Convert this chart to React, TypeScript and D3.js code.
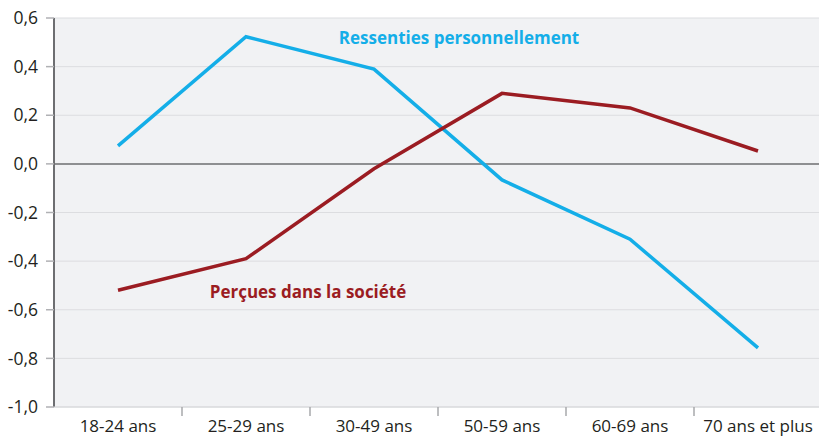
import React, { useRef, useEffect } from 'react';
import * as d3 from 'd3';

const categories = ['18-24 ans', '25-29 ans', '30-49 ans', '50-59 ans', '60-69 ans', '70 ans et plus'];
const ressenties = [0.074, 0.523, 0.39, -0.066, -0.31, -0.757];
const percues = [-0.52, -0.39, -0.02, 0.29, 0.23, 0.053];
const yTicks = [0.6, 0.4, 0.2, 0, -0.2, -0.4, -0.6, -0.8, -1.0];

const App = () => {
  const svgRef = useRef<SVGSVGElement | null>(null);

  useEffect(() => {
    const svg = d3.select(svgRef.current);
    svg.selectAll('*').remove();

    const width = 819;
    const height = 438;
    const margin = { top: 18, right: -3, bottom: 31, left: 54 };
    const innerW = width - margin.left - margin.right;
    const innerH = height - margin.top - margin.bottom;
    const font = '"Open Sans", "DejaVu Sans", sans-serif';

    const g = svg.append('g').attr('transform', `translate(${margin.left},${margin.top})`);

    const x = d3.scaleBand().domain(categories).range([0, innerW]);
    const y = d3.scaleLinear().domain([-1, 0.6]).range([innerH, 0]);
    const fmt = (d: number) => d.toFixed(1).replace('.', ',');

    // plot background
    g.append('rect')
      .attr('x', 0).attr('y', 0)
      .attr('width', innerW).attr('height', innerH)
      .attr('fill', '#f1f2f4');

    // gridlines
    g.selectAll('.grid')
      .data(yTicks.filter(d => d !== 0))
      .enter().append('line')
      .attr('x1', 0).attr('x2', innerW)
      .attr('y1', d => y(d)).attr('y2', d => y(d))
      .attr('stroke', '#dcdde0').attr('stroke-width', 1);

    // zero line
    g.append('line')
      .attr('x1', 0).attr('x2', innerW)
      .attr('y1', y(0)).attr('y2', y(0))
      .attr('stroke', '#6d6e71').attr('stroke-width', 1.5);

    // y axis
    g.append('line')
      .attr('x1', 0).attr('x2', 0)
      .attr('y1', 0).attr('y2', innerH)
      .attr('stroke', '#6d6e71').attr('stroke-width', 2);
    g.selectAll('.ytick')
      .data(yTicks)
      .enter().append('line')
      .attr('x1', -8).attr('x2', 0)
      .attr('y1', d => y(d)).attr('y2', d => y(d))
      .attr('stroke', '#b0b1b4').attr('stroke-width', 1.5);
    g.selectAll('.ylabel')
      .data(yTicks)
      .enter().append('text')
      .attr('x', -16)
      .attr('y', d => y(d))
      .attr('dy', '0.35em')
      .attr('text-anchor', 'end')
      .style('font-family', font)
      .style('font-size', '17.5px')
      .attr('fill', '#231f20')
      .text(d => fmt(d));

    // x axis
    g.append('line')
      .attr('x1', 0).attr('x2', innerW)
      .attr('y1', innerH).attr('y2', innerH)
      .attr('stroke', '#d6d7da').attr('stroke-width', 1);
    g.selectAll('.xtick')
      .data(categories.slice(1))
      .enter().append('line')
      .attr('x1', d => x(d)!).attr('x2', d => x(d)!)
      .attr('y1', innerH).attr('y2', innerH + 9)
      .attr('stroke', '#a7a8ab').attr('stroke-width', 1.5);
    g.selectAll('.xlabel')
      .data(categories)
      .enter().append('text')
      .attr('x', d => x(d)! + x.bandwidth() / 2)
      .attr('y', innerH + 25)
      .attr('text-anchor', 'middle')
      .style('font-family', font)
      .style('font-size', '17px')
      .attr('fill', '#231f20')
      .text(d => d);

    const line = d3.line<number>()
      .x((_, i) => x(categories[i])! + x.bandwidth() / 2)
      .y(d => y(d));

    g.append('path')
      .datum(ressenties)
      .attr('d', line)
      .attr('fill', 'none')
      .attr('stroke', '#14aee8')
      .attr('stroke-width', 3.5);

    g.append('path')
      .datum(percues)
      .attr('d', line)
      .attr('fill', 'none')
      .attr('stroke', '#9b1c22')
      .attr('stroke-width', 3.5);

    // series labels
    svg.append('text')
      .attr('x', 459).attr('y', 44)
      .attr('text-anchor', 'middle')
      .style('font-family', font)
      .style('font-size', '17px')
      .style('font-weight', 'bold')
      .attr('fill', '#14aee8')
      .text('Ressenties personnellement');

    svg.append('text')
      .attr('x', 308).attr('y', 298)
      .attr('text-anchor', 'middle')
      .style('font-family', font)
      .style('font-size', '17px')
      .style('font-weight', 'bold')
      .attr('fill', '#9b1c22')
      .text('Perçues dans la société');
  }, []);

  return (
    <div style={{ position: 'absolute', left: 0, top: 0, width: 819, height: 438, background: '#fff' }}>
      <svg ref={svgRef} width={819} height={438} style={{ display: 'block' }}></svg>
    </div>
  );
};

export default App;
